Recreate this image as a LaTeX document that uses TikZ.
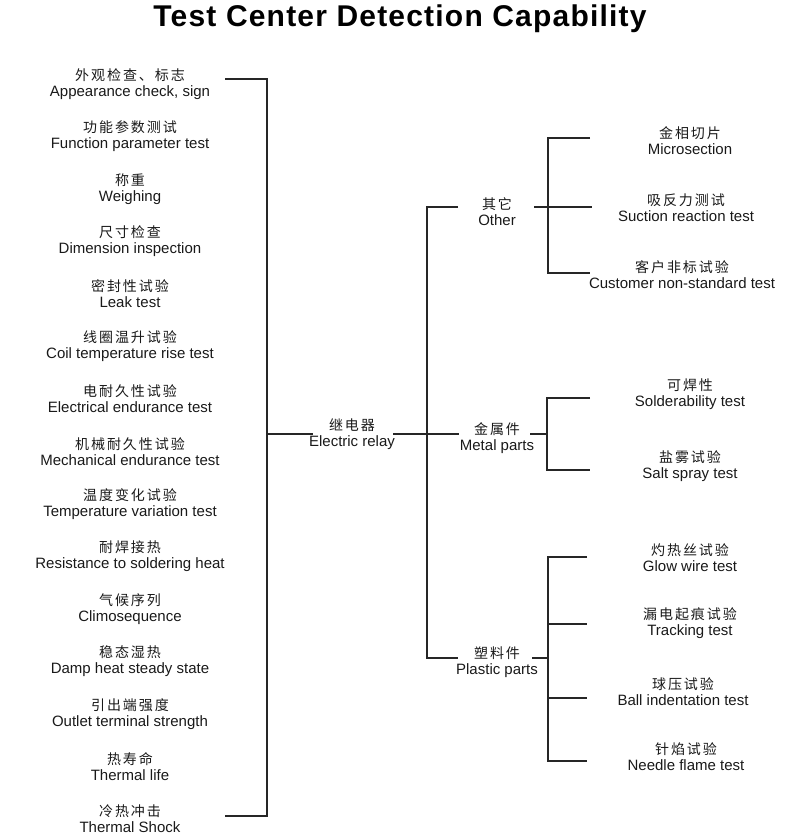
\documentclass[tikz,border=0pt]{standalone}
\usepackage{fontspec}
\setmainfont{Liberation Sans}
\newfontfamily\cjk{Noto Sans CJK SC}[LetterSpace=14]
\newfontfamily\ttlfont{Liberation Sans}[LetterSpace=4]
\tikzset{
  line/.style={draw=black!85, line width=1.4pt},
  item/.style={align=center, inner sep=0pt, text=black!90, font=\fontsize{15}{16}\selectfont},
  ttl/.style={inner sep=0pt, font=\ttlfont\fontsize{30}{32}\selectfont\bfseries}
}
\newcommand{\two}[2]{{\cjk\fontsize{14}{16}\selectfont #1}\\#2}
\begin{document}
\begin{tikzpicture}[x=1pt,y=-1pt]
\useasboundingbox (0,0) rectangle (800,837);
\node[ttl] (title) at (400,19) {Test Center Detection Capability};
% left column
\foreach \i/\c/\e in {0/外观检查、标志/{Appearance check, sign},1/功能参数测试/{Function parameter test},2/称重/Weighing,3/尺寸检查/{Dimension inspection},4/密封性试验/{Leak test},5/线圈温升试验/{Coil temperature rise test},6/电耐久性试验/{Electrical endurance test},7/机械耐久性试验/{Mechanical endurance test},8/温度变化试验/{Temperature variation test},9/耐焊接热/{Resistance to soldering heat},10/气候序列/Climosequence,11/稳态湿热/{Damp heat steady state},12/引出端强度/{Outlet terminal strength},13/热寿命/{Thermal life},14/冷热冲击/{Thermal Shock}}
  \node[item] (L\i) at (130,84+52.5*\i) {\two{\c}{\e}};
% center
\node[item] (relay) at (352,434.5) {\two{继电器}{Electric relay}};
\node[item] (other) at (497,212) {\two{其它}{Other}};
\node[item] (metal) at (497,438) {\two{金属件}{Metal parts}};
\node[item] (plastic) at (497,662) {\two{塑料件}{Plastic parts}};
% right
\node[item] (r1) at (690,140.5) {\two{金相切片}{Microsection}};
\node[item] (r2) at (686,207.5) {\two{吸反力测试}{Suction reaction test}};
\node[item] (r3) at (682,274.5) {\two{客户非标试验}{Customer non-standard test}};
\node[item] (r4) at (690,394.5) {\two{可焊性}{Solderability test}};
\node[item] (r5) at (690,466) {\two{盐雾试验}{Salt spray test}};
\node[item] (r6) at (690,558) {\two{灼热丝试验}{Glow wire test}};
\node[item] (r7) at (690,623.5) {\two{漏电起痕试验}{Tracking test}};
\node[item] (r8) at (683,691.5) {\two{球压试验}{Ball indentation test}};
\node[item] (r9) at (686,756.5) {\two{针焰试验}{Needle flame test}};
% coordinates
\coordinate (lt) at (225,79);
\coordinate (lb) at (225,816);
\coordinate (lm) at (313,434);
\coordinate (rm) at (393,434);
\coordinate (ot) at (459,434);
\coordinate (co) at (458,207);
\coordinate (cp) at (458,658);
\coordinate (oe) at (534,207);
\coordinate (me) at (530,434);
\coordinate (pe) at (532,658);
% left bracket
\draw[line] (lt) -- (267,79) -- (267,816) -- (lb);
\draw[line] (267,434) -- (lm);
% relay to groups
\draw[line] (rm) -- (ot);
\draw[line] (co) -- (427,207) -- (427,658) -- (cp);
% other
\draw[line] (oe) -- (592,207);
\draw[line] (590,138) -- (548,138) -- (548,273) -- (590,273);
% metal
\draw[line] (me) -- (547,434);
\draw[line] (590,398) -- (547,398) -- (547,470) -- (590,470);
% plastic
\draw[line] (pe) -- (548,658);
\draw[line] (587,557) -- (548,557) -- (548,761) -- (587,761);
\draw[line] (548,624) -- (587,624);
\draw[line] (548,698) -- (587,698);
\end{tikzpicture}
\end{document}
